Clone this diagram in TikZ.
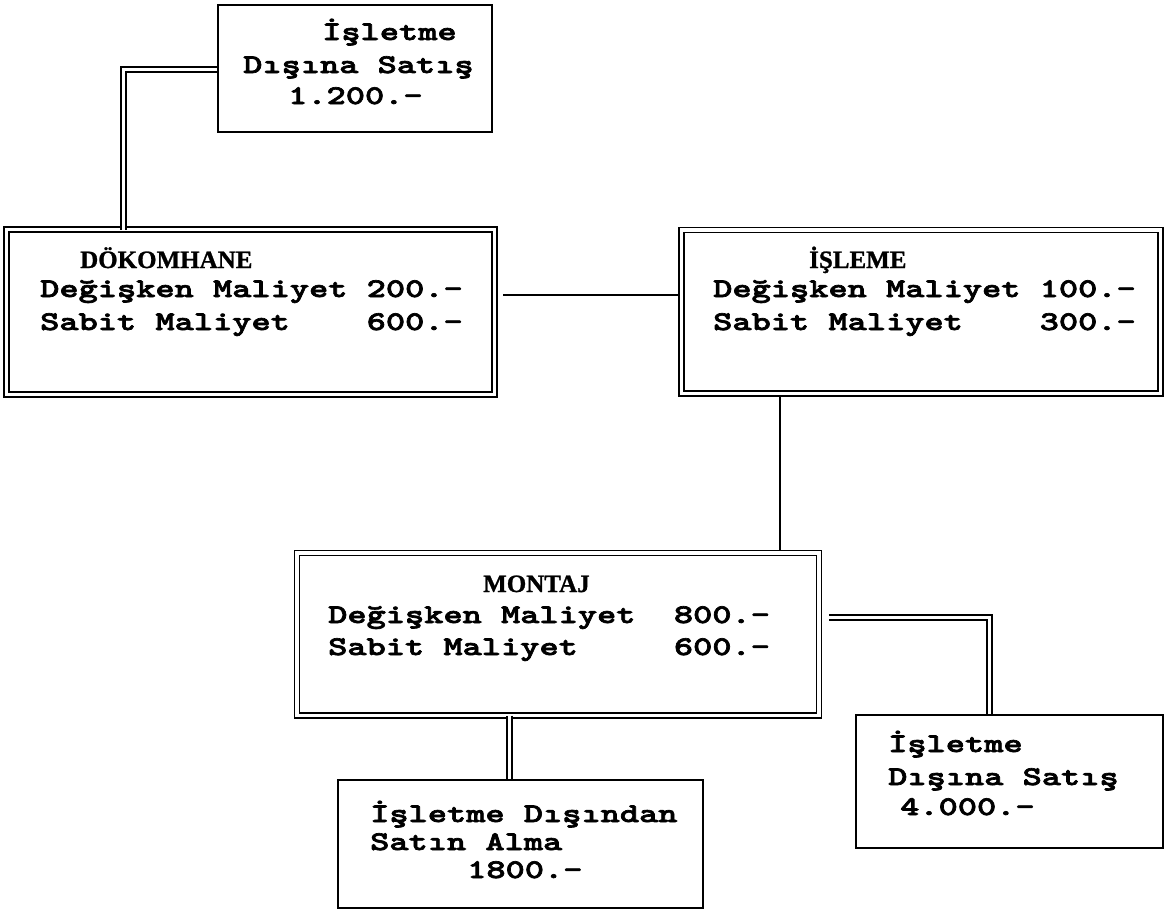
\documentclass[tikz,border=0pt]{standalone}
\usepackage{fontspec}
\newfontfamily\boxfont{lmmonolt10-bold.otf}[FakeStretch=1.355,FakeBold=2.5]
\newfontfamily\headfont{Liberation Serif}[FakeBold=1]
\usetikzlibrary{calc}

\tikzset{
  sbox/.style={draw, line width=1.6pt, inner sep=0pt, outer sep=0pt},
  dbox/.style={draw, double, double distance=3.5pt, line width=1.5pt, inner sep=0pt, outer sep=0pt},
  sline/.style={line width=1.8pt},
  dline/.style={double, double distance=3.5pt, line width=1.4pt},
  txt/.style={anchor=base west, inner sep=0pt, font=\boxfont\fontsize{27}{31}\selectfont},
  head/.style={anchor=base west, inner sep=0pt, font=\headfont\bfseries\fontsize{25}{31}\selectfont}
}

\begin{document}
\begin{tikzpicture}[x=1pt,y=-1pt]
\useasboundingbox (0,0) rectangle (1170,913);

% Boxes
\node[sbox, minimum width=274pt, minimum height=127pt] (satis1) at (355,68.5) {};
\node[dbox, minimum width=488pt, minimum height=165pt] (dok) at (250.5,312) {};
\node[dbox, minimum width=479pt, minimum height=163.5pt] (isl) at (921,311.75) {};
\node[dbox, minimum width=522pt, minimum height=162.5pt] (mon) at (558,634.25) {};
\node[sbox, minimum width=365pt, minimum height=128pt] (alma) at (520.5,844) {};
\node[sbox, minimum width=307pt, minimum height=133pt] (satis2) at (1009.5,781.5) {};

% Connectors
\coordinate (k1) at (123.5,69.5);
\draw[dline, shorten <=0.8pt] (satis1.west |- k1) -| (dok.north -| k1);
\coordinate (k2) at (503,295);
\draw[sline, shorten >=2.5pt] (k2) -- (isl.west |- k2);
\coordinate (k3) at (780,0);
\draw[sline, shorten <=2.5pt, shorten >=2.5pt] (isl.south -| k3) -- (mon.north -| k3);
\coordinate (k4) at (509.5,0);
\draw[dline, shorten >=0.8pt] (mon.south -| k4) -- (alma.north -| k4);
\coordinate (k5) at (829,617.5);
\coordinate (k6) at (989.5,0);
\draw[dline, shorten >=0.8pt] (k5) -| (satis2.north -| k6);

% Texts
\node[txt] (satis1a) at (322,40) {İşletme};
\node[txt] (satis1b) at (243,73) {Dışına Satış};
\node[txt] (satis1c) at (288,104) {1.200.-};

\node[head] (dokh) at (80,268) {DÖKOMHANE};
\node[txt] (dok1) at (40,297) {Değişken Maliyet 200.-};
\node[txt] (dok2) at (40,330) {Sabit Maliyet~~~~600.-};

\node[head] (islh) at (809,268) {İŞLEME};
\node[txt] (isl1) at (713,297) {Değişken Maliyet 100.-};
\node[txt] (isl2) at (713,330) {Sabit Maliyet~~~~300.-};

\node[head] (monh) at (483,592) {MONTAJ};
\node[txt] (mon1) at (328,623) {Değişken Maliyet~~800.-};
\node[txt] (mon2) at (328,655) {Sabit Maliyet~~~~~600.-};

\node[txt] (alma1) at (370,822) {İşletme Dışından};
\node[txt] (alma2) at (370,850) {Satın Alma};
\node[txt] (alma3) at (467,878) {1800.-};

\node[txt] (satis2a) at (888,752) {İşletme};
\node[txt] (satis2b) at (888,785) {Dışına Satış};
\node[txt] (satis2c) at (900,815) {4.000.-};

\end{tikzpicture}
\end{document}
